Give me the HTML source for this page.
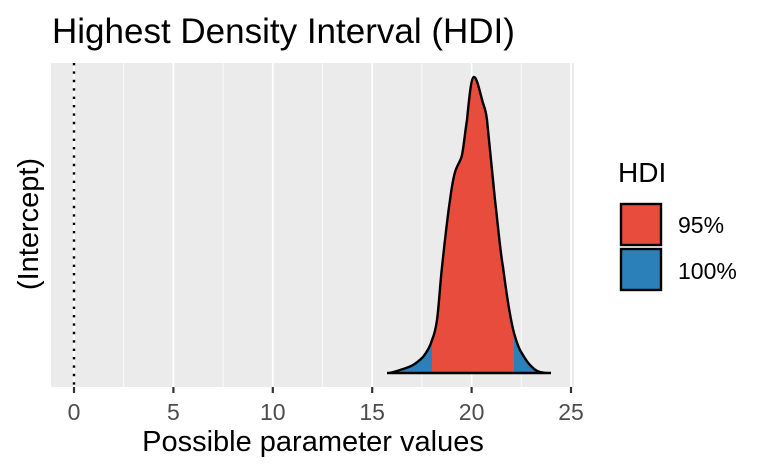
<!DOCTYPE html>
<html><head><meta charset="utf-8"><style>body{margin:0;background:#fff}svg{display:block}text{font-family:"Liberation Sans",sans-serif}</style></head><body>
<svg width="768" height="474" viewBox="0 0 768 474">
<text x="52" y="43" font-size="35" fill="#000">Highest Density Interval (HDI)</text>
<rect x="51" y="63" width="523" height="324" fill="#ebebeb"/>
<g stroke="#fff" stroke-width="0.8">
<line x1="123.7" y1="63" x2="123.7" y2="387"/><line x1="223.1" y1="63" x2="223.1" y2="387"/><line x1="322.5" y1="63" x2="322.5" y2="387"/><line x1="421.9" y1="63" x2="421.9" y2="387"/><line x1="521.3" y1="63" x2="521.3" y2="387"/></g>
<g stroke="#fff" stroke-width="1.8">
<line x1="74" y1="63" x2="74" y2="387"/><line x1="173.4" y1="63" x2="173.4" y2="387"/><line x1="272.8" y1="63" x2="272.8" y2="387"/><line x1="372.2" y1="63" x2="372.2" y2="387"/><line x1="471.6" y1="63" x2="471.6" y2="387"/><line x1="571" y1="63" x2="571" y2="387"/></g>
<defs>
<path id="d" d="M387,373 C393,373 396,371 400,370 C406,368 410,367 413,365 C418,362 420,360 423,357 C427,352 430,347 432,340 C435,333 436,327 437,320 C439,305 440,285 442,267 C445,240 447,220 450,200 C452,185 454,172 457,167 C459,162 461,160 462,155 C464,145 465,132 467,120 C469,100 471,77 474,77 C477,77 480,93 483,103 C485,109 486,112 487,120 C490,150 493,180 495,200 C498,225 500,250 503,267 C506,290 510,318 514,333 C516,340 518,346 520,350 C524,357 527,362 530,365 C534,369 536,371 540,372 C544,373 548,373 551,373 Z"/>
<clipPath id="c"><rect x="432" y="60" width="82" height="320"/></clipPath>
</defs>
<use href="#d" fill="#2b80b9"/>
<use href="#d" fill="#e74c3c" clip-path="url(#c)"/>
<use href="#d" fill="none" stroke="#000" stroke-width="2.4"/>
<line x1="74" y1="63" x2="74" y2="387" stroke="#000" stroke-width="2.4" stroke-dasharray="2.4,6"/>
<g stroke="#333" stroke-width="2.2"><line x1="74" y1="387" x2="74" y2="393"/><line x1="173.4" y1="387" x2="173.4" y2="393"/><line x1="272.8" y1="387" x2="272.8" y2="393"/><line x1="372.2" y1="387" x2="372.2" y2="393"/><line x1="471.6" y1="387" x2="471.6" y2="393"/><line x1="571" y1="387" x2="571" y2="393"/></g>
<g font-size="23" fill="#4d4d4d" text-anchor="middle"><text x="74" y="420">0</text><text x="173.4" y="420">5</text><text x="272.8" y="420">10</text><text x="372.2" y="420">15</text><text x="471.6" y="420">20</text><text x="571" y="420">25</text></g>
<text x="313" y="451" font-size="29" text-anchor="middle" fill="#000">Possible parameter values</text>
<text transform="translate(38,224) rotate(-90)" font-size="29" text-anchor="middle" fill="#000">(Intercept)</text>
<text x="618" y="182" font-size="28" fill="#000">HDI</text>
<rect x="621" y="204" width="40" height="41" fill="#e74c3c" stroke="#000" stroke-width="2.4"/>
<rect x="621" y="249" width="40" height="41" fill="#2b80b9" stroke="#000" stroke-width="2.4"/>
<text x="678" y="233" font-size="23" fill="#000">95%</text>
<text x="678" y="279" font-size="23" fill="#000">100%</text>
</svg>
</body></html>
